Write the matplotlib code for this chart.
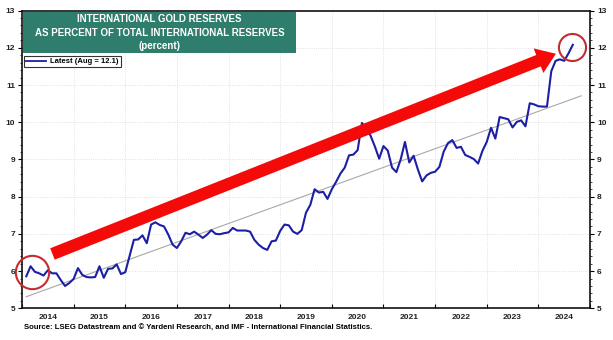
import numpy as np
import pandas as pd
import matplotlib
matplotlib.use('Agg')
import matplotlib.pyplot as plt
from matplotlib.patches import Rectangle
from matplotlib.lines import Line2D

plt.rcParams['font.family'] = ['Liberation Sans', 'DejaVu Sans']
plt.rcParams['font.weight'] = 'bold'

# monthly share of gold in total international reserves (%)
months = pd.period_range('2014-01', '2024-08', freq='M')
gold_share = [
    5.86, 6.13, 5.98, 5.94, 5.88, 6.02, 5.94, 5.94, 5.76, 5.60, 5.68, 5.79,
    6.08, 5.90, 5.84, 5.83, 5.84, 6.13, 5.82, 6.06, 6.07, 6.18, 5.92, 5.97,
    6.40, 6.84, 6.85, 6.96, 6.75, 7.25, 7.31, 7.24, 7.20, 6.98, 6.71, 6.62,
    6.80, 7.03, 6.99, 7.06, 6.98, 6.89, 6.98, 7.10, 7.00, 6.99, 7.02, 7.04,
    7.16, 7.09, 7.09, 7.09, 7.06, 6.84, 6.71, 6.62, 6.57, 6.80, 6.82, 7.08,
    7.25, 7.23, 7.06, 7.00, 7.10, 7.57, 7.78, 8.20, 8.11, 8.13, 7.94, 8.20,
    8.40, 8.62, 8.78, 9.11, 9.13, 9.25, 9.98, 9.83, 9.64, 9.35, 9.02, 9.36,
    9.24, 8.78, 8.66, 9.00, 9.47, 8.92, 9.10, 8.73, 8.41, 8.57, 8.64, 8.67,
    8.80, 9.21, 9.44, 9.52, 9.31, 9.34, 9.12, 9.07, 9.01, 8.89, 9.23, 9.47,
    9.85, 9.56, 10.14, 10.11, 10.08, 9.86, 10.01, 10.05, 9.89, 10.51, 10.48, 10.43,
    10.42, 10.42, 11.37, 11.65, 11.69, 11.65, 11.85, 12.08,
]

# trend line end points (year, percent)
trend_x = [2014.08, 2024.83]
trend_y = [5.31, 10.71]

# red annotation arrow and circles (year, percent)
arrow_from = (2014.59, 6.46)
arrow_to = (2024.34, 11.84)
circle_x = [2014.19, 2024.65]
circle_y = [5.97, 12.02]
circle_size = [24, 19.5]

years = list(range(2014, 2025))
yticks = list(range(5, 14))
legend_label = 'Latest (Aug = 12.1)'
title_lines = 'INTERNATIONAL GOLD RESERVES\nAS PERCENT OF TOTAL INTERNATIONAL RESERVES\n(percent)'
source = 'Source: LSEG Datastream and \u00a9 Yardeni Research, and IMF - International Financial Statistics.'

x = np.array([p.year + p.month / 12 for p in months])

fig = plt.figure(figsize=(6.13, 3.4), dpi=100)
ax = fig.add_axes([22 / 613, 1 - 308.3 / 340, 568 / 613, 297.7 / 340])

ax.plot(trend_x, trend_y, color='#a8a8a8', lw=0.8, zorder=2)
ax.plot(x, gold_share, color='#1c1fa3', lw=1.5, zorder=3)

ax.set_xlim(2014, 2025)
ax.set_ylim(5, 13)

# year boundaries carry the grid, labels sit mid-year
ax.set_xticks(years + [2025])
ax.set_xticklabels([])
ax.set_xticks([yr + 0.5 for yr in years], minor=True)
ax.set_xticklabels([str(yr) for yr in years], minor=True)
ax.tick_params(axis='x', which='major', direction='in', length=3, width=0.8)
ax.tick_params(axis='x', which='minor', length=0, pad=4, labelsize=6, labelcolor='#222222')

ax.set_yticks(yticks)
ax.set_yticks(np.arange(5, 13.01, 0.2), minor=True)
ax.tick_params(axis='y', which='both', left=True, right=True, labelleft=True, labelright=True,
               direction='out', labelsize=6, pad=2, labelcolor='#222222')
ax.tick_params(axis='y', which='major', length=3, width=0.8)
ax.tick_params(axis='y', which='minor', length=1.5, width=0.5)

ax.grid(True, which='major', color='#d9d9d9', lw=0.6, ls=':')
for s in ax.spines.values():
    s.set_linewidth(1.2)
    s.set_color('#111111')

# red arrow and circles
ax.annotate('', xy=arrow_to, xytext=arrow_from,
            arrowprops=dict(arrowstyle='simple,head_length=1.35,head_width=1.9,tail_width=0.88',
                            mutation_scale=10, color='#f50a0a', shrinkA=0, shrinkB=0, lw=0),
            zorder=4)
for cx, cy, cs in zip(circle_x, circle_y, circle_size):
    ax.plot(cx, cy, marker='o', ms=cs, mfc='none', mec='#c42b2f', mew=1.5, zorder=5, clip_on=False)

# title box
ax.add_patch(Rectangle((0.002, 0.858), 0.48, 0.137, transform=ax.transAxes,
                       facecolor='#2f7d6c', edgecolor='none', zorder=6))
ax.text(0.242, 0.926, title_lines, transform=ax.transAxes, ha='center', va='center',
        color='white', fontsize=7, fontweight='bold', linespacing=1.4, zorder=7)

handle = Line2D([], [], color='#1c1fa3', lw=1.3)
leg = ax.legend([handle], [legend_label], loc='upper left', bbox_to_anchor=(0.003, 0.849),
                fontsize=5.5, frameon=True, fancybox=False, borderpad=0.3, handlelength=2.6,
                handletextpad=0.6, borderaxespad=0)
leg.get_frame().set_edgecolor('black')
leg.get_frame().set_linewidth(0.8)
leg.set_zorder(8)

fig.text(24 / 613, 1 - 328.5 / 340, source, fontsize=5.6, fontweight='bold', va='center', ha='left')

fig.savefig('out.png', dpi=100)
